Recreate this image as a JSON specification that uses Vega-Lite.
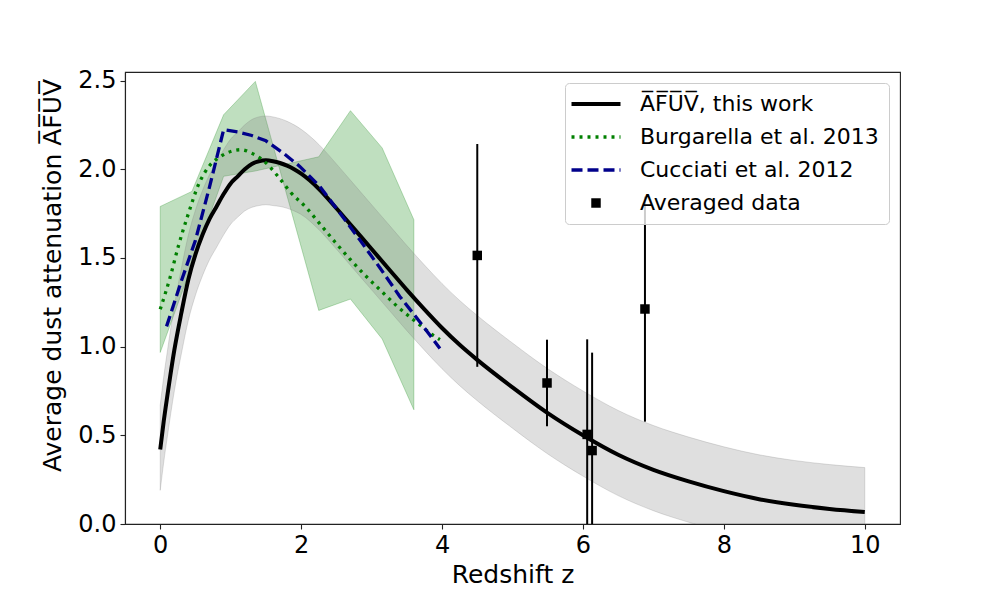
{
  "$schema": "https://vega.github.io/schema/vega-lite/v6.json",
  "width": 775,
  "height": 452,
  "autosize": {"type": "none"},
  "padding": {"left": 125, "top": 72, "right": 100, "bottom": 76},
  "config": {
    "font": "DejaVu Sans",
    "view": {"stroke": "#222222", "strokeWidth": 1.1},
    "axis": {
      "grid": false,
      "domainColor": "#222222",
      "domainWidth": 1.1,
      "tickColor": "#222222",
      "tickWidth": 1.1,
      "tickSize": 5,
      "labelFont": "DejaVu Sans",
      "labelFontSize": 24,
      "labelColor": "black",
      "labelPadding": 4,
      "titleFont": "DejaVu Sans",
      "titleFontSize": 25,
      "titleFontWeight": "normal",
      "titleColor": "black"
    }
  },
  "datasets": {
    "greenband": [
      {"z": 0, "hi": 1.79, "lo": 0.967},
      {"z": 0.45, "hi": 1.875, "lo": 1.46},
      {"z": 0.9, "hi": 2.307, "lo": 1.96},
      {"z": 1.35, "hi": 2.495, "lo": 1.99},
      {"z": 2.25, "hi": 1.204, "lo": 2.07},
      {"z": 2.7, "hi": 1.268, "lo": 2.33},
      {"z": 3.15, "hi": 1.043, "lo": 2.12},
      {"z": 3.6, "hi": 0.644, "lo": 1.715}
    ],
    "greyband": [
      {"z": 0, "lo": 0.19, "hi": 0.67},
      {"z": 0.05, "lo": 0.35, "hi": 0.83},
      {"z": 0.1, "lo": 0.49, "hi": 0.97},
      {"z": 0.2, "lo": 0.75, "hi": 1.23},
      {"z": 0.3, "lo": 0.96, "hi": 1.44},
      {"z": 0.4, "lo": 1.15, "hi": 1.63},
      {"z": 0.5, "lo": 1.29, "hi": 1.77},
      {"z": 0.6, "lo": 1.4, "hi": 1.88},
      {"z": 0.7, "lo": 1.49, "hi": 1.97},
      {"z": 0.8, "lo": 1.56, "hi": 2.04},
      {"z": 0.9, "lo": 1.63, "hi": 2.11},
      {"z": 1.0, "lo": 1.69, "hi": 2.17},
      {"z": 1.1, "lo": 1.73, "hi": 2.21},
      {"z": 1.2, "lo": 1.765, "hi": 2.25},
      {"z": 1.3, "lo": 1.785, "hi": 2.28},
      {"z": 1.4, "lo": 1.795, "hi": 2.295},
      {"z": 1.5, "lo": 1.8, "hi": 2.3},
      {"z": 1.6, "lo": 1.795, "hi": 2.295},
      {"z": 1.7, "lo": 1.79, "hi": 2.285},
      {"z": 1.8, "lo": 1.78, "hi": 2.27},
      {"z": 1.9, "lo": 1.765, "hi": 2.25},
      {"z": 2.0, "lo": 1.745, "hi": 2.225},
      {"z": 2.25, "lo": 1.66, "hi": 2.14},
      {"z": 2.5, "lo": 1.55, "hi": 2.03},
      {"z": 2.75, "lo": 1.435, "hi": 1.915},
      {"z": 3.0, "lo": 1.32, "hi": 1.8},
      {"z": 3.25, "lo": 1.205, "hi": 1.685},
      {"z": 3.5, "lo": 1.09, "hi": 1.57},
      {"z": 3.75, "lo": 0.98, "hi": 1.46},
      {"z": 4.0, "lo": 0.875, "hi": 1.355},
      {"z": 4.25, "lo": 0.78, "hi": 1.26},
      {"z": 4.5, "lo": 0.695, "hi": 1.175},
      {"z": 5.0, "lo": 0.54, "hi": 1.02},
      {"z": 5.5, "lo": 0.395, "hi": 0.875},
      {"z": 6.0, "lo": 0.27, "hi": 0.75},
      {"z": 6.5, "lo": 0.16, "hi": 0.64},
      {"z": 7.0, "lo": 0.075, "hi": 0.555},
      {"z": 7.5, "lo": 0.01, "hi": 0.49},
      {"z": 8.0, "lo": -0.045, "hi": 0.435},
      {"z": 8.5, "lo": -0.09, "hi": 0.39},
      {"z": 9.0, "lo": -0.122, "hi": 0.358},
      {"z": 9.5, "lo": -0.145, "hi": 0.335},
      {"z": 10.0, "lo": -0.162, "hi": 0.318}
    ],
    "thiswork": [
      {"series": "A\u0305F\u0305U\u0305V\u0305, this work", "z": 0, "y": 0.42},
      {"series": "A\u0305F\u0305U\u0305V\u0305, this work", "z": 0.05, "y": 0.58},
      {"series": "A\u0305F\u0305U\u0305V\u0305, this work", "z": 0.1, "y": 0.72},
      {"series": "A\u0305F\u0305U\u0305V\u0305, this work", "z": 0.2, "y": 0.98},
      {"series": "A\u0305F\u0305U\u0305V\u0305, this work", "z": 0.3, "y": 1.19},
      {"series": "A\u0305F\u0305U\u0305V\u0305, this work", "z": 0.4, "y": 1.38},
      {"series": "A\u0305F\u0305U\u0305V\u0305, this work", "z": 0.5, "y": 1.52},
      {"series": "A\u0305F\u0305U\u0305V\u0305, this work", "z": 0.6, "y": 1.63},
      {"series": "A\u0305F\u0305U\u0305V\u0305, this work", "z": 0.7, "y": 1.72},
      {"series": "A\u0305F\u0305U\u0305V\u0305, this work", "z": 0.8, "y": 1.79},
      {"series": "A\u0305F\u0305U\u0305V\u0305, this work", "z": 0.9, "y": 1.86},
      {"series": "A\u0305F\u0305U\u0305V\u0305, this work", "z": 1.0, "y": 1.92},
      {"series": "A\u0305F\u0305U\u0305V\u0305, this work", "z": 1.1, "y": 1.96},
      {"series": "A\u0305F\u0305U\u0305V\u0305, this work", "z": 1.2, "y": 2.0},
      {"series": "A\u0305F\u0305U\u0305V\u0305, this work", "z": 1.3, "y": 2.03},
      {"series": "A\u0305F\u0305U\u0305V\u0305, this work", "z": 1.4, "y": 2.045},
      {"series": "A\u0305F\u0305U\u0305V\u0305, this work", "z": 1.5, "y": 2.05},
      {"series": "A\u0305F\u0305U\u0305V\u0305, this work", "z": 1.6, "y": 2.045},
      {"series": "A\u0305F\u0305U\u0305V\u0305, this work", "z": 1.7, "y": 2.035},
      {"series": "A\u0305F\u0305U\u0305V\u0305, this work", "z": 1.8, "y": 2.02},
      {"series": "A\u0305F\u0305U\u0305V\u0305, this work", "z": 1.9, "y": 2.0},
      {"series": "A\u0305F\u0305U\u0305V\u0305, this work", "z": 2.0, "y": 1.975},
      {"series": "A\u0305F\u0305U\u0305V\u0305, this work", "z": 2.25, "y": 1.89},
      {"series": "A\u0305F\u0305U\u0305V\u0305, this work", "z": 2.5, "y": 1.78},
      {"series": "A\u0305F\u0305U\u0305V\u0305, this work", "z": 2.75, "y": 1.665},
      {"series": "A\u0305F\u0305U\u0305V\u0305, this work", "z": 3.0, "y": 1.55},
      {"series": "A\u0305F\u0305U\u0305V\u0305, this work", "z": 3.25, "y": 1.435},
      {"series": "A\u0305F\u0305U\u0305V\u0305, this work", "z": 3.5, "y": 1.32},
      {"series": "A\u0305F\u0305U\u0305V\u0305, this work", "z": 3.75, "y": 1.21},
      {"series": "A\u0305F\u0305U\u0305V\u0305, this work", "z": 4.0, "y": 1.105},
      {"series": "A\u0305F\u0305U\u0305V\u0305, this work", "z": 4.25, "y": 1.01},
      {"series": "A\u0305F\u0305U\u0305V\u0305, this work", "z": 4.5, "y": 0.925},
      {"series": "A\u0305F\u0305U\u0305V\u0305, this work", "z": 5.0, "y": 0.77},
      {"series": "A\u0305F\u0305U\u0305V\u0305, this work", "z": 5.5, "y": 0.625},
      {"series": "A\u0305F\u0305U\u0305V\u0305, this work", "z": 6.0, "y": 0.5},
      {"series": "A\u0305F\u0305U\u0305V\u0305, this work", "z": 6.5, "y": 0.39},
      {"series": "A\u0305F\u0305U\u0305V\u0305, this work", "z": 7.0, "y": 0.305},
      {"series": "A\u0305F\u0305U\u0305V\u0305, this work", "z": 7.5, "y": 0.24},
      {"series": "A\u0305F\u0305U\u0305V\u0305, this work", "z": 8.0, "y": 0.185},
      {"series": "A\u0305F\u0305U\u0305V\u0305, this work", "z": 8.5, "y": 0.14},
      {"series": "A\u0305F\u0305U\u0305V\u0305, this work", "z": 9.0, "y": 0.108},
      {"series": "A\u0305F\u0305U\u0305V\u0305, this work", "z": 9.5, "y": 0.085},
      {"series": "A\u0305F\u0305U\u0305V\u0305, this work", "z": 10.0, "y": 0.068}
    ],
    "burgarella": [
      {"series": "Burgarella et al. 2013", "z": 0, "y": 1.21},
      {"series": "Burgarella et al. 2013", "z": 0.14, "y": 1.39},
      {"series": "Burgarella et al. 2013", "z": 0.26, "y": 1.57},
      {"series": "Burgarella et al. 2013", "z": 0.4, "y": 1.75},
      {"series": "Burgarella et al. 2013", "z": 0.54, "y": 1.91},
      {"series": "Burgarella et al. 2013", "z": 0.7, "y": 2.02},
      {"series": "Burgarella et al. 2013", "z": 0.85, "y": 2.07},
      {"series": "Burgarella et al. 2013", "z": 1.0, "y": 2.1},
      {"series": "Burgarella et al. 2013", "z": 1.15, "y": 2.11},
      {"series": "Burgarella et al. 2013", "z": 1.3, "y": 2.09},
      {"series": "Burgarella et al. 2013", "z": 1.46, "y": 2.05},
      {"series": "Burgarella et al. 2013", "z": 1.67, "y": 1.96},
      {"series": "Burgarella et al. 2013", "z": 1.85, "y": 1.87},
      {"series": "Burgarella et al. 2013", "z": 2.08, "y": 1.78},
      {"series": "Burgarella et al. 2013", "z": 2.27, "y": 1.69},
      {"series": "Burgarella et al. 2013", "z": 2.48, "y": 1.59},
      {"series": "Burgarella et al. 2013", "z": 2.7, "y": 1.49},
      {"series": "Burgarella et al. 2013", "z": 2.9, "y": 1.405},
      {"series": "Burgarella et al. 2013", "z": 3.12, "y": 1.32},
      {"series": "Burgarella et al. 2013", "z": 3.35, "y": 1.232},
      {"series": "Burgarella et al. 2013", "z": 3.55, "y": 1.165},
      {"series": "Burgarella et al. 2013", "z": 3.71, "y": 1.114},
      {"series": "Burgarella et al. 2013", "z": 3.85, "y": 1.07},
      {"series": "Burgarella et al. 2013", "z": 3.97, "y": 1.039}
    ],
    "cucciati": [
      {"series": "Cucciati et al. 2012", "z": 0.09, "y": 1.114},
      {"series": "Cucciati et al. 2012", "z": 0.3, "y": 1.37},
      {"series": "Cucciati et al. 2012", "z": 0.5, "y": 1.6},
      {"series": "Cucciati et al. 2012", "z": 0.7, "y": 1.9},
      {"series": "Cucciati et al. 2012", "z": 0.9, "y": 2.223},
      {"series": "Cucciati et al. 2012", "z": 1.1, "y": 2.21},
      {"series": "Cucciati et al. 2012", "z": 1.3, "y": 2.19},
      {"series": "Cucciati et al. 2012", "z": 1.5, "y": 2.16},
      {"series": "Cucciati et al. 2012", "z": 1.75, "y": 2.09},
      {"series": "Cucciati et al. 2012", "z": 1.98, "y": 2.016},
      {"series": "Cucciati et al. 2012", "z": 2.265, "y": 1.903},
      {"series": "Cucciati et al. 2012", "z": 2.55, "y": 1.753},
      {"series": "Cucciati et al. 2012", "z": 2.83, "y": 1.603},
      {"series": "Cucciati et al. 2012", "z": 3.12, "y": 1.443},
      {"series": "Cucciati et al. 2012", "z": 3.4, "y": 1.283},
      {"series": "Cucciati et al. 2012", "z": 3.68, "y": 1.142},
      {"series": "Cucciati et al. 2012", "z": 3.97, "y": 0.99}
    ],
    "points": [
      {"series": "Averaged data", "z": 4.5, "y": 1.514, "lo": 0.886, "hi": 2.142},
      {"series": "Averaged data", "z": 5.49, "y": 0.795, "lo": 0.551, "hi": 1.039},
      {"series": "Averaged data", "z": 6.06, "y": 0.505, "lo": -0.035, "hi": 1.041},
      {"series": "Averaged data", "z": 6.13, "y": 0.414, "lo": -0.14, "hi": 0.966},
      {"series": "Averaged data", "z": 6.88, "y": 1.212, "lo": 0.577, "hi": 1.846}
    ]
  },
  "layer": [
    {
      "data": {"name": "greenband"},
      "mark": {"type": "area", "fill": "green", "fillOpacity": 0.25, "stroke": "green", "strokeOpacity": 0.25, "strokeWidth": 1, "clip": true},
      "encoding": {
        "x": {
          "field": "z", "type": "quantitative",
          "scale": {"domain": [-0.5, 10.5], "nice": false, "zero": false},
          "axis": {"values": [0, 2, 4, 6, 8, 10], "format": "d", "title": "Redshift z", "titlePadding": 5}
        },
        "y": {
          "field": "hi", "type": "quantitative",
          "scale": {"domain": [0, 2.548], "nice": false},
          "axis": {"values": [0, 0.5, 1, 1.5, 2, 2.5], "format": ".1f", "title": "Average dust attenuation A\u0305F\u0305U\u0305V\u0305", "titlePadding": 12, "titleY": 203}
        },
        "y2": {"field": "lo"}
      }
    },
    {
      "data": {"name": "greyband"},
      "mark": {"type": "area", "interpolate": "monotone", "fill": "grey", "fillOpacity": 0.25, "stroke": "grey", "strokeOpacity": 0.25, "strokeWidth": 1, "clip": true},
      "encoding": {
        "x": {"field": "z", "type": "quantitative"},
        "y": {"field": "hi", "type": "quantitative"},
        "y2": {"field": "lo"}
      }
    },
    {
      "data": {"name": "thiswork"},
      "mark": {"type": "line", "interpolate": "monotone", "strokeWidth": 4, "clip": true},
      "encoding": {
        "x": {"field": "z", "type": "quantitative"},
        "y": {"field": "y", "type": "quantitative"},
        "color": {
          "field": "series", "type": "nominal",
          "scale": {
            "domain": ["A\u0305F\u0305U\u0305V\u0305, this work", "Burgarella et al. 2013", "Cucciati et al. 2012", "Averaged data"],
            "range": ["black", "green", "darkblue", "black"]
          },
          "legend": {
            "title": null,
            "orient": "top-right",
            "offset": 11,
            "padding": 10,
            "fillColor": "rgba(255,255,255,0.8)",
            "strokeColor": "#cccccc",
            "cornerRadius": 4,
            "labelFont": "DejaVu Sans",
            "labelFontSize": 22,
            "labelColor": "black",
            "labelLimit": 400,
            "symbolType": "stroke",
            "symbolSize": 400,
            "symbolStrokeWidth": 4,
            "symbolOffset": 10,
            "labelOffset": 33,
            "rowPadding": 11,
            "encode": {
              "symbols": {
                "update": {
                  "shape": {"signal": "datum.value === 'Averaged data' ? 'square' : 'M-2.45,0H2.45'"},
                  "size": {"signal": "datum.value === 'Averaged data' ? 90 : 400"},
                  "fill": {"signal": "datum.value === 'Averaged data' ? 'black' : 'transparent'"},
                  "stroke": {"signal": "datum.value === 'Averaged data' ? 'transparent' : (datum.value === 'Burgarella et al. 2013' ? 'green' : (datum.value === 'Cucciati et al. 2012' ? 'darkblue' : 'black'))"},
                  "strokeWidth": {"signal": "datum.value === 'Averaged data' ? 0 : (datum.value === 'Burgarella et al. 2013' || datum.value === 'Cucciati et al. 2012' ? 3.3 : 4)"},
                  "strokeDash": {"signal": "datum.value === 'Burgarella et al. 2013' ? [3,5] : (datum.value === 'Cucciati et al. 2012' ? [11,5] : [1,0])"},
                  "opacity": {"value": 1}
                }
              }
            }
          }
        }
      }
    },
    {
      "data": {"name": "burgarella"},
      "mark": {"type": "line", "interpolate": "monotone", "strokeWidth": 3.3, "strokeDash": [3, 5], "clip": true},
      "encoding": {
        "x": {"field": "z", "type": "quantitative"},
        "y": {"field": "y", "type": "quantitative"},
        "color": {"field": "series", "type": "nominal"}
      }
    },
    {
      "data": {"name": "cucciati"},
      "mark": {"type": "line", "strokeWidth": 3.3, "strokeDash": [11, 5], "clip": true},
      "encoding": {
        "x": {"field": "z", "type": "quantitative"},
        "y": {"field": "y", "type": "quantitative"},
        "color": {"field": "series", "type": "nominal"}
      }
    },
    {
      "data": {"name": "points"},
      "mark": {"type": "rule", "color": "black", "strokeWidth": 2, "clip": true},
      "encoding": {
        "x": {"field": "z", "type": "quantitative"},
        "y": {"field": "lo", "type": "quantitative"},
        "y2": {"field": "hi"}
      }
    },
    {
      "data": {"name": "points"},
      "mark": {"type": "square", "size": 90, "filled": true, "opacity": 1, "clip": true},
      "encoding": {
        "x": {"field": "z", "type": "quantitative"},
        "y": {"field": "y", "type": "quantitative"},
        "color": {"field": "series", "type": "nominal"}
      }
    }
  ]
}
